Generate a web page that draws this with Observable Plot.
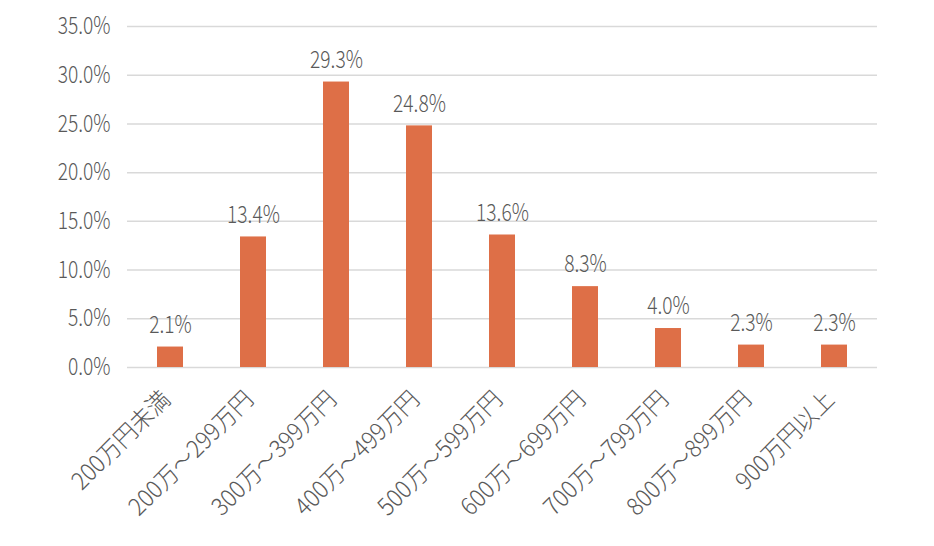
<!DOCTYPE html>
<html><head><meta charset="utf-8">
<script src="https://cdn.jsdelivr.net/npm/d3@7"></script>
<script src="https://cdn.jsdelivr.net/npm/@observablehq/plot@0.6"></script>
<style>
body{margin:0;background:#fff;}
svg{font-family:"Noto Sans CJK JP","Noto Sans",sans-serif;font-weight:300;}
</style>
</head><body>
<div id="chart"></div>
<script>
const categories = ["200万円未満","200万～299万円","300万～399万円","400万～499万円","500万～599万円","600万～699万円","700万～799万円","800万～899万円","900万円以上"];
const values = [0.021,0.134,0.293,0.248,0.136,0.083,0.040,0.023,0.023];
const yTicks = [0,0.05,0.10,0.15,0.20,0.25,0.30,0.35];
const data = categories.map((c,i)=>({cat:c,val:values[i]}));
const fmt = d3.format(".1%");
const chart = Plot.plot({
  width:934, height:546,
  marginTop:26, marginBottom:179, marginLeft:127, marginRight:57,
  style:{fontSize:"24px", color:"#595959", background:"#fff"},
  x:{domain:categories, paddingInner:0.688, paddingOuter:0.344, label:null},
  y:{domain:[0,0.35], ticks:yTicks, label:null},
  marks:[
    Plot.gridY(yTicks,{stroke:"#d9d9d9", strokeOpacity:1, strokeWidth:1.5}),
    Plot.barY(data,{x:"cat", y:"val", fill:"#DE6F47"}),
    Plot.text(data,{x:"cat", y:"val", text:d=>fmt(d.val), dy:-22, fill:"#595959", fontSize:24, className:"narrow"}),
    Plot.axisY({ticks:yTicks, tickFormat:fmt, tickSize:0, tickPadding:17, fill:"#595959", fontSize:24, className:"narrow"}),
    Plot.axisX({tickRotate:-45, tickSize:0, tickPadding:28, dx:-4, fill:"#595959", fontSize:24, label:null, className:"xlab"})
  ]
});
// condense the glyphs horizontally around each text's own anchor
function squeeze(sel, k){
  chart.querySelectorAll(sel + " text").forEach(t=>{
    const tr = t.getAttribute("transform");
    if (tr) t.setAttribute("transform", tr + ` scale(${k},1)`);
  });
}
squeeze(".narrow", 0.8);
squeeze(".xlab", 0.95);
document.getElementById("chart").appendChild(chart);
</script>
</body></html>
